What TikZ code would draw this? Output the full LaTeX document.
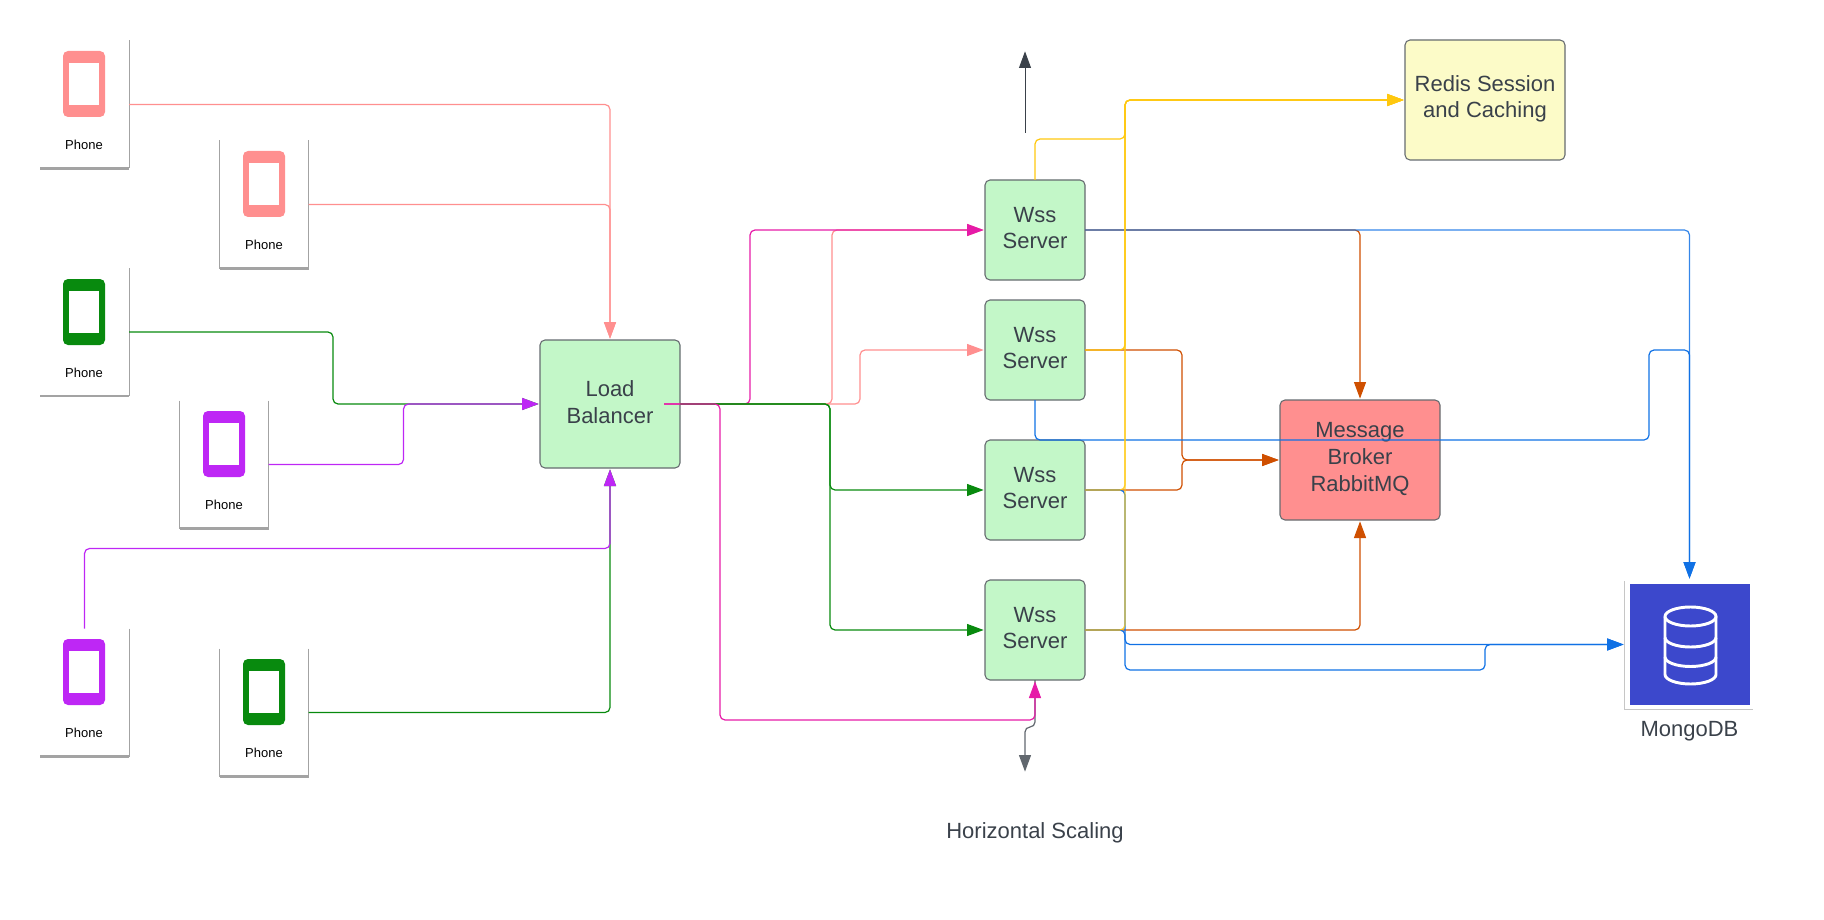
\documentclass[tikz,border=0pt]{standalone}
\usepackage{fontspec}
\setmainfont{Liberation Sans}
\usetikzlibrary{arrows.meta, positioning, shadows}

\definecolor{inkgrey}{HTML}{3A414A}
\definecolor{boxedge}{HTML}{666B70}
\definecolor{cardgrey}{HTML}{A3A3A3}
\definecolor{phonepink}{HTML}{FF8F8F}
\definecolor{phonegreen}{HTML}{088A0E}
\definecolor{phonepurple}{HTML}{BE27F5}
\definecolor{serverfill}{HTML}{C3F7C8}
\definecolor{redisfill}{HTML}{FCFBC8}
\definecolor{mongoblue}{HTML}{3C48CC}
\definecolor{linkmagenta}{HTML}{E61BA8}
\definecolor{linkyellow}{HTML}{FFC80F}
\definecolor{linkorange}{HTML}{CF4F00}
\definecolor{linkblue}{HTML}{1071E5}

\begin{document}
\begin{tikzpicture}[
            x=0.75pt, y=-0.75pt,
            every node/.style={outer sep=0pt, text=inkgrey},
            box/.style={draw=boxedge, line width=0.8pt, rounded corners=3.75pt, align=center, font=\fontsize{16.5}{20}\selectfont, text depth=3pt},
            serverbox/.style={box, fill=serverfill, minimum width=75pt, minimum height=75pt},
            phonecard/.style={minimum width=66.75pt, minimum height=96pt},
            phoneicon/.style={rounded corners=3.75pt, minimum width=31.5pt, minimum height=49.5pt},
            phonescreen/.style={fill=white, minimum width=22.5pt, minimum height=31.5pt},
            phonetext/.style={text=black, font=\fontsize{9.75}{12}\selectfont},
            cardedge/.style={draw=cardgrey, line width=0.7pt},
            cardbase/.style={draw=cardgrey, line width=2pt},
            link/.style={draw=#1, line width=0.9pt, rounded corners=3.75pt, shorten >=1pt, -{Triangle[length=12.5pt, width=9pt]}},
            blend/.style={draw opacity=0.85},
            dbicon/.style={draw=white, line width=2.2pt},
        ]
            \useasboundingbox (0,0) rectangle (1824,920);

            \node[phonecard] (p1) at (84.5,104.5) {};
            \node[phoneicon, fill=phonepink] (p1icon) at (84,84) {};
            \node[phonescreen] (p1screen) at (p1icon) {};
            \node[phonetext] (p1text) at (84,145) {Phone};
            \draw[cardedge] (p1.north east) -- (p1.south east);
            \draw[cardbase] (p1.south west) -- (p1.south east);

            \node[phonecard] (p2) at (264,204.5) {};
            \node[phoneicon, fill=phonepink] (p2icon) at (264,184) {};
            \node[phonescreen] (p2screen) at (p2icon) {};
            \node[phonetext] (p2text) at (264,245) {Phone};
            \draw[cardedge] (p2.north west) -- (p2.south west);
            \draw[cardedge] (p2.north east) -- (p2.south east);
            \draw[cardbase] (p2.south west) -- (p2.south east);

            \node[phonecard] (p3) at (84.5,332) {};
            \node[phoneicon, fill=phonegreen] (p3icon) at (84,312) {};
            \node[phonescreen] (p3screen) at (p3icon) {};
            \node[phonetext] (p3text) at (84,373) {Phone};
            \draw[cardedge] (p3.north east) -- (p3.south east);
            \draw[cardbase] (p3.south west) -- (p3.south east);

            \node[phonecard] (p4) at (224,464.5) {};
            \node[phoneicon, fill=phonepurple] (p4icon) at (224,444) {};
            \node[phonescreen] (p4screen) at (p4icon) {};
            \node[phonetext] (p4text) at (224,505) {Phone};
            \draw[cardedge] (p4.north west) -- (p4.south west);
            \draw[cardedge] (p4.north east) -- (p4.south east);
            \draw[cardbase] (p4.south west) -- (p4.south east);

            \node[phonecard] (p5) at (84.5,692.5) {};
            \node[phoneicon, fill=phonepurple] (p5icon) at (84,672) {};
            \node[phonescreen] (p5screen) at (p5icon) {};
            \node[phonetext] (p5text) at (84,733) {Phone};
            \draw[cardedge] (p5.north east) -- (p5.south east);
            \draw[cardbase] (p5.south west) -- (p5.south east);

            \node[phonecard] (p6) at (264,712.5) {};
            \node[phoneicon, fill=phonegreen] (p6icon) at (264,692) {};
            \node[phonescreen] (p6screen) at (p6icon) {};
            \node[phonetext] (p6text) at (264,753) {Phone};
            \draw[cardedge] (p6.north west) -- (p6.south west);
            \draw[cardedge] (p6.north east) -- (p6.south east);
            \draw[cardbase] (p6.south west) -- (p6.south east);

            \node[box, fill=serverfill, minimum width=105pt, minimum height=96pt] (lb) at (610,404) {Load\\Balancer};
            \node[serverbox] (w1) at (1035,230) {Wss\\Server};
            \node[serverbox] (w2) at (1035,350) {Wss\\Server};
            \node[serverbox] (w3) at (1035,490) {Wss\\Server};
            \node[serverbox] (w4) at (1035,630) {Wss\\Server};
            \node[box, fill=redisfill, minimum width=120pt, minimum height=90pt, text depth=5pt] (redis) at (1485,100) {Redis Session\\and Caching};
            \node[box, fill=phonepink, minimum width=120pt, minimum height=90pt, text depth=4.5pt] (mq) at (1360,460) {Message\\Broker\\RabbitMQ};

            \node[fill=white, drop shadow={shadow xshift=-0.8pt, shadow yshift=-0.8pt, opacity=0.45}, minimum width=96.75pt, minimum height=96.75pt] (mongo) at (1689.5,644.5) {};
            \node[fill=mongoblue, minimum width=90pt, minimum height=90.75pt] (mongoinner) at (mongo) {};
            \draw[dbicon] (1690.5,616.5) ellipse [x radius=25.5, y radius=9.5];
            \draw[dbicon] (1665,616.5) -- (1665,674.5) arc [start angle=180, end angle=0, x radius=25.5, y radius=9.5] -- (1716,616.5);
            \draw[dbicon] (1665,637.5) arc [start angle=180, end angle=0, x radius=25.5, y radius=9.5];
            \draw[dbicon] (1665,657) arc [start angle=180, end angle=0, x radius=25.5, y radius=9.5];
            \node[font=\fontsize{16.5}{20}\selectfont] (mongotext) [below=6pt of mongo] {MongoDB};

            \node[font=\fontsize{16.5}{20}\selectfont] (scaletext) at (1035,833) {Horizontal Scaling};
            \coordinate (scalefrom) at (1025,133);
            \coordinate (scaleup) at (1025,50);
            \coordinate (scaledown) at (1025,773);
            \coordinate (lbout) at (664,404);

            \draw[link=inkgrey, line width=0.7pt] (scalefrom) -- (scaleup);
            \draw[link=inkgrey!80] (w4.south) -- ++(0,47) -| (scaledown);

            \draw[link=phonepink] (p1.east) -| (lb.north);
            \draw[link=phonepink] (p2.east) -| (lb.north);
            \draw[link=phonegreen] (p3.east) -- ++(204,0) |- (lb.west);
            \draw[link=phonepurple] (p4.east) -- ++(135,0) |- (lb.west);
            \draw[link=phonegreen] (p6.east) -| (lb.south);
            \draw[link=phonepurple] (p5.north) -- ++(0,-80) -| (lb.south);

            \draw[link=phonepink] (lb.east) -- ++(152,0) |- (w1.west);
            \draw[link=linkmagenta] (lbout) -- ++(86,0) |- (w1.west);
            \draw[link=phonepink] (lb.east) -- ++(180,0) |- (w2.west);
            \draw[link=phonegreen] (lb.east) -- ++(150,0) |- (w3.west);
            \draw[link=phonegreen] (lb.east) -- ++(150,0) |- (w4.west);
            \draw[link=linkmagenta] (lbout) -- ++(56,0) -- ++(0,316) -| (w4.south);

            \draw[link=linkorange] (w1.east) -| (mq.north);
            \draw[link=linkorange] (w2.east) -- ++(97,0) |- (mq.west);
            \draw[link=linkorange] (w3.east) -- ++(97,0) |- (mq.west);
            \draw[link=linkorange] (w4.east) -| (mq.south);

            \draw[link=linkblue, blend] (w1.east) -| (mongo.north);
            \draw[link=linkblue] (w3.east) -- ++(40,0) |- (mongo.west);
            \draw[link=linkblue] (w2.south) -- ++(0,40) -- ++(614,0) -- ++(0,-90) -| (mongo.north);
            \draw[link=linkblue] (w4.east) -- ++(40,0) -- ++(0,40) -- ++(360,0) |- (mongo.west);

            \draw[link=linkyellow, blend] (w3.east) -- ++(40,0) |- (redis.west);
            \draw[link=linkyellow, blend] (w4.east) -- ++(40,0) |- (redis.west);
            \draw[link=linkyellow] (w1.north) -- ++(0,-41) -- ++(90,0) |- (redis.west);
            \draw[link=linkyellow] (w2.east) -- ++(40,0) |- (redis.west);
        \end{tikzpicture}
\end{document}
